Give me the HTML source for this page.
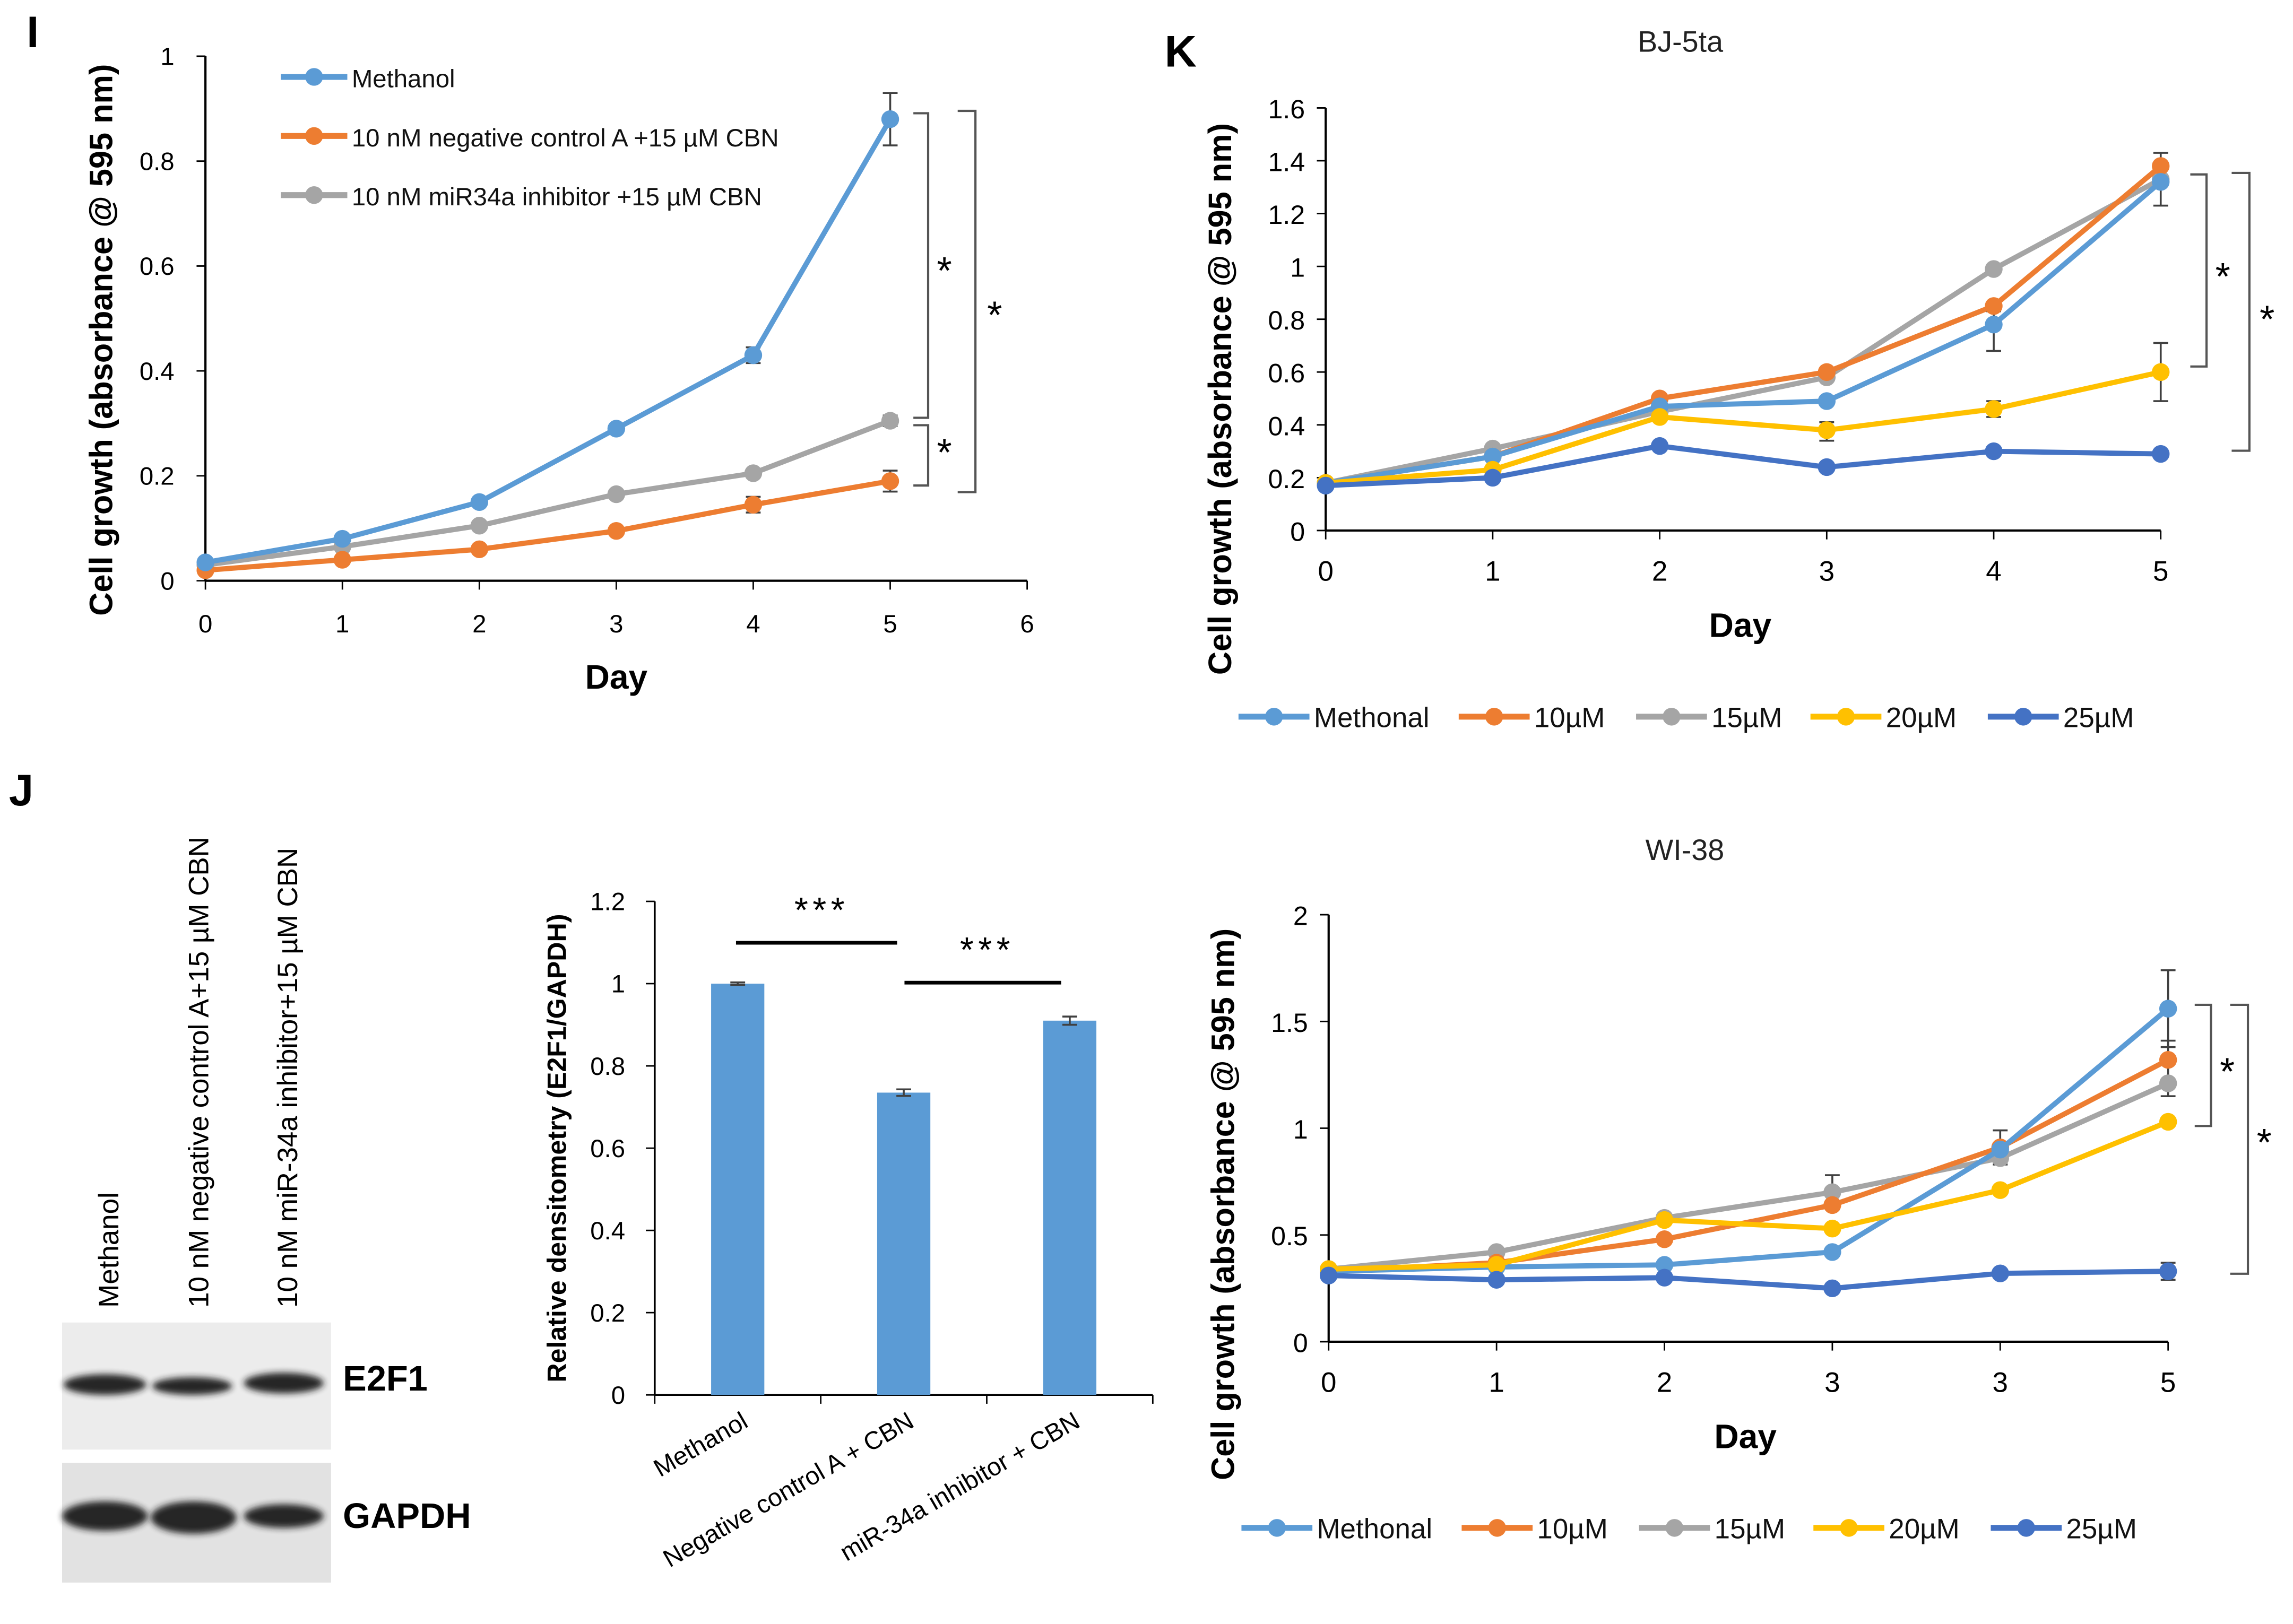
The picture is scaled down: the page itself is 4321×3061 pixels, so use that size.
<!DOCTYPE html>
<html><head><meta charset="utf-8"><style>
html,body{margin:0;padding:0;background:#fff;}
svg{display:block;font-family:"Liberation Sans",sans-serif;}
</style></head><body>
<svg id="fig" width="4321" height="3061" viewBox="0 0 1551.5 1099" xmlns="http://www.w3.org/2000/svg">
<defs><filter id="blur" x="-20%" y="-50%" width="140%" height="200%"><feGaussianBlur stdDeviation="2.2"/></filter></defs>
<g id="gI"></g>
<g id="gK1"></g>
<g id="gK2"></g>
<g id="gJ"></g>
</svg>
<script>
const NS="http://www.w3.org/2000/svg";
const C={blue:"#5B9BD5",orange:"#ED7D31",gray:"#A5A5A5",yellow:"#FFC000",dblue:"#4472C4"};
// Panel I data
const iDays=[0,1,2,3,4,5];
const iMethanol=[0.035,0.08,0.15,0.29,0.43,0.88];
const iNegCtrl=[0.02,0.04,0.06,0.095,0.145,0.19];
const iInhib=[0.03,0.065,0.105,0.165,0.205,0.305];
const iErr=[0.05,0.02,0.01];
const iXTicks=[0,1,2,3,4,5,6];
const iYTicks=["0","0.2","0.4","0.6","0.8","1"];
const iNames=["Methanol","10 nM negative control A +15 µM CBN","10 nM miR34a inhibitor +15 µM CBN"];
// Panel K BJ-5ta
const kDays=[0,1,2,3,4,5];
const kLabels1=["0","1","2","3","4","5"];
const bjMeth=[0.18,0.28,0.47,0.49,0.78,1.32];
const bj10=[0.18,0.28,0.5,0.6,0.85,1.38];
const bj15=[0.18,0.31,0.45,0.58,0.99,1.33];
const bj20=[0.18,0.23,0.43,0.38,0.46,0.6];
const bj25=[0.17,0.2,0.32,0.24,0.3,0.29];
const bjYTicks=["0","0.2","0.4","0.6","0.8","1","1.2","1.4","1.6"];
// Panel K WI-38
const kLabels2=["0","1","2","3","3","5"];
const wiMeth=[0.33,0.35,0.36,0.42,0.9,1.56];
const wi10=[0.33,0.37,0.48,0.64,0.91,1.32];
const wi15=[0.34,0.42,0.58,0.7,0.86,1.21];
const wi20=[0.34,0.36,0.57,0.53,0.71,1.03];
const wi25=[0.31,0.29,0.3,0.25,0.32,0.33];
const wiYTicks=["0","0.5","1","1.5","2"];
const kNames=["Methonal","10µM","15µM","20µM","25µM"];
// Panel J
const jCats=["Methanol","Negative control A + CBN","miR-34a inhibitor + CBN"];
const jVals=[1,0.735,0.91];
const jErr=[0.003,0.008,0.01];
const jYTicks=["0","0.2","0.4","0.6","0.8","1","1.2"];

function el(p,tag,a,txt){const e=document.createElementNS(NS,tag);for(const k in a)e.setAttribute(k,a[k]);if(txt!==undefined)e.textContent=txt;p.appendChild(e);return e;}
function lin(d0,d1,r0,r1){return v=>r0+(v-d0)/(d1-d0)*(r1-r0);}

function series(g,xs,ys,X,Y,color,r,name){
  const pl=el(g,"polyline",{points:xs.map((d,i)=>X(d)+","+Y(ys[i])).join(" "),fill:"none",stroke:color,"stroke-width":3.5});
  
  
  xs.forEach((d,i)=>{const c=el(g,"circle",{cx:X(d),cy:Y(ys[i]),r:r,fill:color});
    
    });
}
function errbar(g,x,y1,y2){el(g,"path",{d:`M${x},${y1}V${y2}M${x-5},${y1}H${x+5}M${x-5},${y2}H${x+5}`,stroke:"#404040","stroke-width":1.3,fill:"none"});}
function bracket(g,x1,x2,ya,yb,sx,sy){el(g,"path",{d:`M${x1},${ya}H${x2}V${yb}H${x1}`,stroke:"#555","stroke-width":1.5,fill:"none"});
  const s=el(g,"text",{x:sx,y:sy,"font-size":26,"text-anchor":"middle"},"*");
  
  }
function legendLine(g,x,y,color,label,fs,len){el(g,"line",{x1:x,y1:y,x2:x+len,y2:y,stroke:color,"stroke-width":4});
  el(g,"circle",{cx:x+len/2,cy:y,r:6,fill:color});
  const t=el(g,"text",{x:x+len+3,y:y+7,"font-size":fs,fill:"#111"},label);
  
  }

// ===== Panel I =====
(function(){
const g=document.getElementById("gI");
const X=lin(0,6,139,695), Y=lin(0,1,393,38);
el(g,"text",{x:18,y:32,"font-size":30,"font-weight":"bold"},"I");
el(g,"line",{x1:139,y1:38,x2:139,y2:393,stroke:"#000","stroke-width":1.5});
el(g,"line",{x1:139,y1:393,x2:695,y2:393,stroke:"#000","stroke-width":1.5});
iYTicks.forEach(t=>{const y=Y(+t);el(g,"line",{x1:133,y1:y,x2:139,y2:y,stroke:"#000"});
  el(g,"text",{x:118,y:y+6,"font-size":17,"text-anchor":"end"},t);});
iXTicks.forEach(d=>{const x=X(d);el(g,"line",{x1:x,y1:393,x2:x,y2:399,stroke:"#000"});
  el(g,"text",{x:x,y:428,"font-size":17,"text-anchor":"middle"},d);});
el(g,"text",{x:417,y:466,"font-size":23,"font-weight":"bold","text-anchor":"middle"},"Day");
el(g,"text",{transform:"translate(76,230) rotate(-90)","font-size":22,"font-weight":"bold","text-anchor":"middle"},"Cell growth (absorbance @ 595 nm)");
[iMethanol,iNegCtrl,iInhib].forEach((s,k)=>errbar(g,X(5),Y(s[5]+iErr[k]),Y(s[5]-iErr[k])));
errbar(g,X(4),Y(0.445),Y(0.415));errbar(g,X(4),Y(0.16),Y(0.13));
series(g,iDays,iInhib,X,Y,C.gray,6,"mir34a-inhibitor");
series(g,iDays,iNegCtrl,X,Y,C.orange,6,"negative-control");
series(g,iDays,iMethanol,X,Y,C.blue,6,"methanol");
[C.blue,C.orange,C.gray].forEach((c,k)=>legendLine(g,190,52+40*k,c,iNames[k],17,45));
bracket(g,618,628,Y(iMethanol[5])-4,Y(iInhib[5])-2,639,192);
bracket(g,648,660,75,333,673,222);
bracket(g,618,628,Y(iInhib[5])+3,Y(iNegCtrl[5])+3,639,315);
})();

// ===== Panel K helper =====
function kPanel(g,title,tx,ty,x0,x1,y0,y1,ymax,yt,lab,sets,legY,dayY,ytx,yty,errs){
  const X=lin(0,5,x0,x1), Y=lin(0,ymax,y0,y1);
  const tt=el(g,"text",{x:tx,y:ty,"font-size":20,"text-anchor":"middle",fill:"#222"},title);
  
  
  el(g,"line",{x1:x0,y1:y1,x2:x0,y2:y0,stroke:"#000","stroke-width":1.5});
  el(g,"line",{x1:x0,y1:y0,x2:x1,y2:y0,stroke:"#000","stroke-width":1.5});
  yt.forEach(t=>{const y=Y(+t);el(g,"line",{x1:x0-6,y1:y,x2:x0,y2:y,stroke:"#000"});
    el(g,"text",{x:x0-14,y:y+7,"font-size":18,"text-anchor":"end"},t);});
  kDays.forEach((d,i)=>{const x=X(d);el(g,"line",{x1:x,y1:y0,x2:x,y2:y0+6,stroke:"#000"});
    el(g,"text",{x:x,y:y0+34,"font-size":19,"text-anchor":"middle"},lab[i]);});
  el(g,"text",{x:(x0+x1)/2-2,y:dayY,"font-size":23,"font-weight":"bold","text-anchor":"middle"},"Day");
  el(g,"text",{transform:`translate(${ytx},${yty}) rotate(-90)`,"font-size":22,"font-weight":"bold","text-anchor":"middle"},"Cell growth (absorbance @ 595 nm)");
  errs.forEach(e=>errbar(g,X(e[0]),Y(e[1]),Y(e[2])));
  const cols=[C.blue,C.orange,C.gray,C.yellow,C.dblue];
  const names=["methonal","10um","15um","20um","25um"];
  [2,1,0,3,4].forEach(k=>series(g,kDays,sets[k],X,Y,cols[k],6,names[k]));
  const lx=[838,987,1107,1225,1345];
  cols.forEach((c,k)=>legendLine(g,lx[k]+(legY>600?2:0),legY,c,kNames[k],19,48));
  return {X,Y};
}
(function(){
const g=document.getElementById("gK1");
el(g,"text",{x:788,y:45,"font-size":30,"font-weight":"bold"},"K");
kPanel(g,"BJ-5ta",1137,35,897,1462,359,73,1.6,bjYTicks,kLabels1,[bjMeth,bj10,bj15,bj20,bj25],485,431,833,270,
 [[5,1.43,1.23],[5,0.71,0.49],[4,0.83,0.68],[3,0.41,0.34],[4,0.49,0.43]]);
bracket(g,1482,1493,118,248,1504,196);
bracket(g,1510,1522,117,305,1534,225);
})();
(function(){
const g=document.getElementById("gK2");
kPanel(g,"WI-38",1140,582,899,1467,908,619,2,wiYTicks,kLabels2,[wiMeth,wi10,wi15,wi20,wi25],1034,980,835,815,
 [[5,1.74,1.38],[5,1.41,1.15],[4,0.99,0.83],[3,0.78,0.62],[5,0.37,0.29]]);
bracket(g,1485,1496,680,762,1507,734);
bracket(g,1509,1521,680,862,1532,782);
})();

// ===== Panel J =====
(function(){
const g=document.getElementById("gJ");
el(g,"text",{x:6,y:545,"font-size":30,"font-weight":"bold"},"J");
const b1=el(g,"rect",{x:42,y:895,width:182,height:86,fill:"#ececec"});


const b2=el(g,"rect",{x:42,y:990,width:182,height:81,fill:"#e2e2e2"});


[[71,937,28,7],[130,938,27,6],[192,936,27,7],[71,1026,29,10],[131,1027,29,11],[192,1026,27,8]].forEach(b=>
  el(g,"ellipse",{cx:b[0],cy:b[1],rx:b[2],ry:b[3],fill:"#1e1e1e",opacity:0.95,filter:"url(#blur)"}));
el(g,"text",{x:232,y:941,"font-size":24,"font-weight":"bold"},"E2F1");
el(g,"text",{x:232,y:1034,"font-size":24,"font-weight":"bold"},"GAPDH");
["Methanol","10 nM negative control A+15 µM CBN","10 nM miR-34a inhibitor+15 µM CBN"].forEach((t,i)=>{
  const x=[80,141,201][i];
  const e=el(g,"text",{transform:`translate(${x},885) rotate(-90)`,"font-size":19},t);
  
  });
const x0=443,x1=780,Y=lin(0,1.2,944,610);
const bw=(x1-x0)/3;
el(g,"line",{x1:x0,y1:610,x2:x0,y2:944,stroke:"#000","stroke-width":1.3});
el(g,"line",{x1:x0,y1:944,x2:x1,y2:944,stroke:"#000","stroke-width":1.3});
jYTicks.forEach(t=>{const y=Y(+t);el(g,"line",{x1:x0-6,y1:y,x2:x0,y2:y,stroke:"#000"});
  el(g,"text",{x:x0-20,y:y+6,"font-size":17,"text-anchor":"end"},t);});
[0,1,2,3].forEach(i=>el(g,"line",{x1:x0+bw*i,y1:944,x2:x0+bw*i,y2:950,stroke:"#000"}));
jVals.forEach((v,i)=>{const cx=x0+bw*(i+0.5);
  const r=el(g,"rect",{x:cx-18,y:Y(v),width:36,height:944-Y(v),fill:C.blue});
  
  
  errbar(g,cx,Y(v+jErr[i]),Y(v-jErr[i]));
  const t=el(g,"text",{transform:`translate(${cx+8},965) rotate(-30)`,"font-size":17,"text-anchor":"end"},jCats[i]);
  
  });
el(g,"text",{transform:"translate(383,777) rotate(-90)","font-size":18,"font-weight":"bold","text-anchor":"middle"},"Relative densitometry (E2F1/GAPDH)");
el(g,"line",{x1:498,y1:638,x2:607,y2:638,stroke:"#000","stroke-width":2.5});
el(g,"line",{x1:612,y1:665,x2:718,y2:665,stroke:"#000","stroke-width":2.5});
el(g,"text",{x:556,y:624,"font-size":24,"text-anchor":"middle","letter-spacing":3},"***");
el(g,"text",{x:668,y:651,"font-size":24,"text-anchor":"middle","letter-spacing":3},"***");
})();
</script>
</body></html>
